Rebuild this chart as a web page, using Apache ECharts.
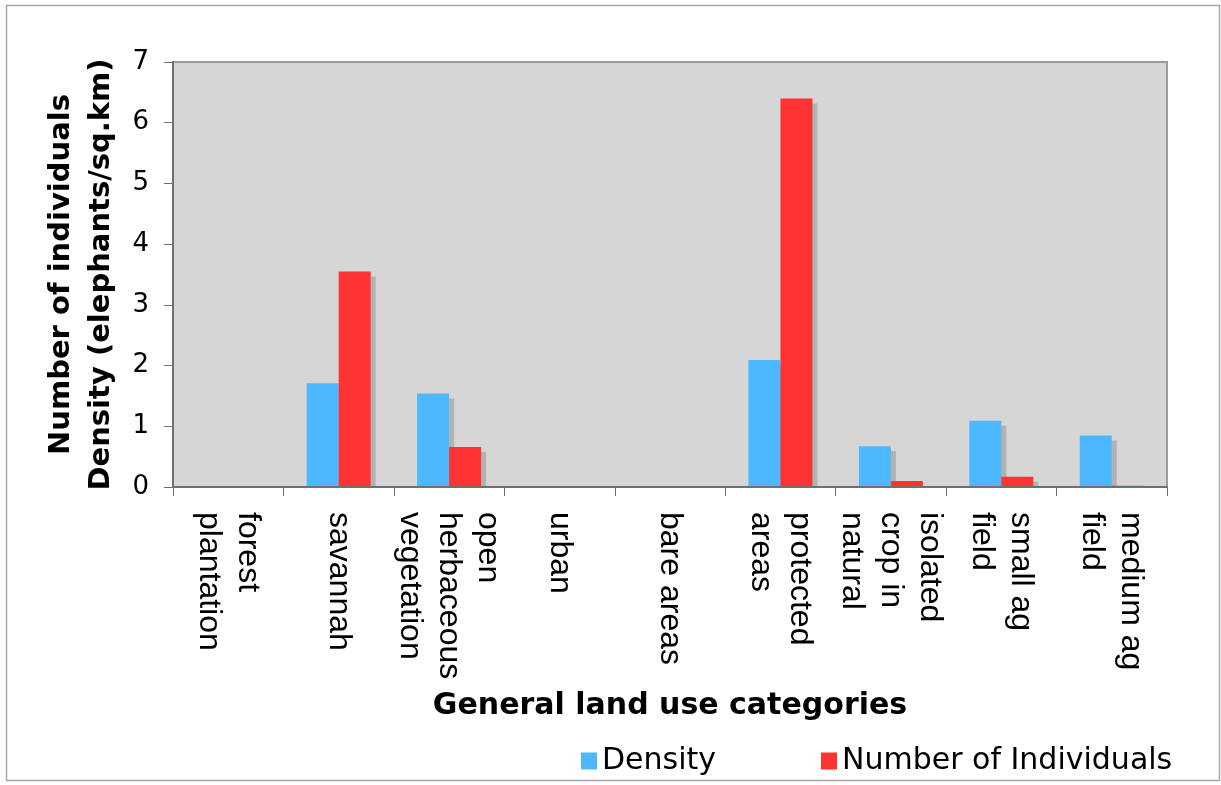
<!DOCTYPE html>
<html>
<head>
<meta charset="utf-8">
<script src="https://cdn.jsdelivr.net/npm/echarts@6/dist/echarts.min.js"></script>
<style>
  html, body { margin: 0; padding: 0; background: #ffffff; }
  #chart { width: 1221px; height: 785px; }
</style>
</head>
<body>
<div id="chart"></div>
<script>
// Land use categories (multi-line labels as drawn under the axis)
const categories = [
  'forest\nplantation',
  'savannah',
  'open\nherbaceous\nvegetation',
  'urban',
  'bare areas',
  'protected\nareas',
  'isolated\ncrop in\nnatural',
  'small ag\nfield',
  'medium ag\nfield'
];

// Elephant density (elephants / sq.km)
const density = [0, 1.71, 1.54, 0, 0, 2.09, 0.67, 1.09, 0.85];

// Number of individuals
const individuals = [0, 3.55, 0.66, 0, 0, 6.40, 0.10, 0.17, 0.02];

const yTicks = { min: 0, max: 7, interval: 1 };

const chart = echarts.init(document.getElementById('chart'), null, { renderer: 'canvas' });

// Drop shadow cast down and to the right of each bar
const barShadow = {
  shadowColor: '#b2b2b2',
  shadowBlur: 0,
  shadowOffsetX: 5,
  shadowOffsetY: 5
};

chart.setOption({
  animation: false,
  backgroundColor: '#ffffff',
  graphic: [{
    // outer chart frame
    type: 'rect',
    shape: { x: 6.5, y: 5.5, width: 1213, height: 775 },
    style: { fill: null, stroke: '#a6a6a6', lineWidth: 1.5 },
    silent: true,
    z: -1
  }, {
    // keeps bar shadows from spilling below the category axis
    type: 'rect',
    shape: { x: 172, y: 488, width: 1010, height: 8 },
    style: { fill: '#ffffff' },
    silent: true,
    z: 3
  }],
  grid: {
    left: 173, right: 54, top: 62, bottom: 298,
    show: true,
    backgroundColor: '#d6d6d6',
    borderColor: '#999999',
    borderWidth: 2
  },
  legend: [{
    data: ['Density'],
    left: 576, top: 741,
    itemWidth: 16, itemHeight: 17,
    itemGap: 6,
    icon: 'rect',
    textStyle: { fontFamily: 'DejaVu Sans', fontSize: 30, color: '#000' }
  }, {
    data: ['Number of Individuals'],
    left: 816, top: 741,
    itemWidth: 16, itemHeight: 17,
    icon: 'rect',
    textStyle: { fontFamily: 'DejaVu Sans', fontSize: 30, color: '#000' }
  }],
  xAxis: {
    type: 'category',
    data: categories,
    boundaryGap: true,
    z: 5,
    name: 'General land use categories',
    nameLocation: 'middle',
    nameGap: 204,
    nameTextStyle: { fontFamily: 'DejaVu Sans', fontWeight: 'bold', fontSize: 30, color: '#000' },
    axisLine: { show: true, lineStyle: { color: '#707070', width: 2 } },
    axisTick: { show: true, length: 9, lineStyle: { color: '#707070', width: 1 } },
    axisLabel: {
      interval: 0,
      rotate: -90,
      margin: 25,
      fontFamily: 'Liberation Sans',
      fontSize: 32,
      lineHeight: 39,
      color: '#000'
    },
    splitLine: { show: false }
  },
  yAxis: {
    type: 'value',
    min: yTicks.min, max: yTicks.max, interval: yTicks.interval,
    z: 5,
    name: 'Number of individuals\nDensity (elephants/sq.km)',
    nameLocation: 'middle',
    nameRotate: 90,
    nameGap: 49,
    nameTextStyle: { fontFamily: 'DejaVu Sans', fontWeight: 'bold', fontSize: 29, lineHeight: 40, color: '#000' },
    axisLine: { show: true, lineStyle: { color: '#707070', width: 2 } },
    axisTick: { show: true, length: 9, lineStyle: { color: '#707070', width: 1 } },
    axisLabel: { margin: 24, fontFamily: 'DejaVu Sans', fontSize: 26, color: '#000' },
    splitLine: { show: false }
  },
  series: [{
    name: 'Density',
    type: 'bar',
    data: density,
    barWidth: 32,
    barGap: '0%',
    itemStyle: Object.assign({ color: '#4db8ff' }, barShadow)
  }, {
    name: 'Number of Individuals',
    type: 'bar',
    data: individuals,
    barWidth: 32,
    barGap: '0%',
    itemStyle: Object.assign({ color: '#ff3333' }, barShadow)
  }]
});
</script>
</body>
</html>
